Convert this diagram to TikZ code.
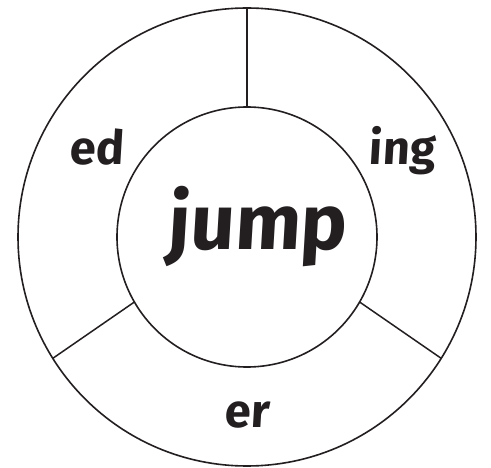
\documentclass[tikz,border=0pt]{standalone}
\usepackage{fontspec}
\setmainfont{Fira Sans}
\newfontfamily\wordfont[FakeSlant=0.06]{Fira Sans}
\usepackage{tikz}
\usetikzlibrary{positioning}
\definecolor{ink}{HTML}{231F20}

\begin{document}
\begin{tikzpicture}[
    x=1pt, y=-1pt,
    ring/.style={draw=ink, circle, line width=1.6pt, inner sep=0pt, outer sep=0pt},
    divider/.style={draw=ink, line width=1.5pt},
    ending/.style={font=\wordfont\fontsize{47}{47}\selectfont\bfseries, text=ink, inner sep=0pt},
    root/.style={font=\wordfont\fontsize{78}{78}\selectfont\bfseries, text=ink, inner sep=0pt},
]
\useasboundingbox (0,0) rectangle (491,468);

% Rings
\node[ring, minimum size=458pt] (outer) at (247,237) {};
\node[ring, minimum size=260pt] (inner) at (247,237) {};

% Dividers
\draw[divider] (inner.north) -- (outer.north);
\draw[divider] (inner.210) -- (outer.212.7);
\draw[divider] (inner.-30) -- (outer.-32.7);

% Word and endings
\node[root, anchor=base] (word) at (257,250) {jump};
\node[ending, anchor=base] (ed) at (97,165) {ed};
\node[ending, anchor=base] (ing) at (402,165) {ing};
\node[ending, anchor=base] (er) at (247,428) {er};

\end{tikzpicture}
\end{document}
